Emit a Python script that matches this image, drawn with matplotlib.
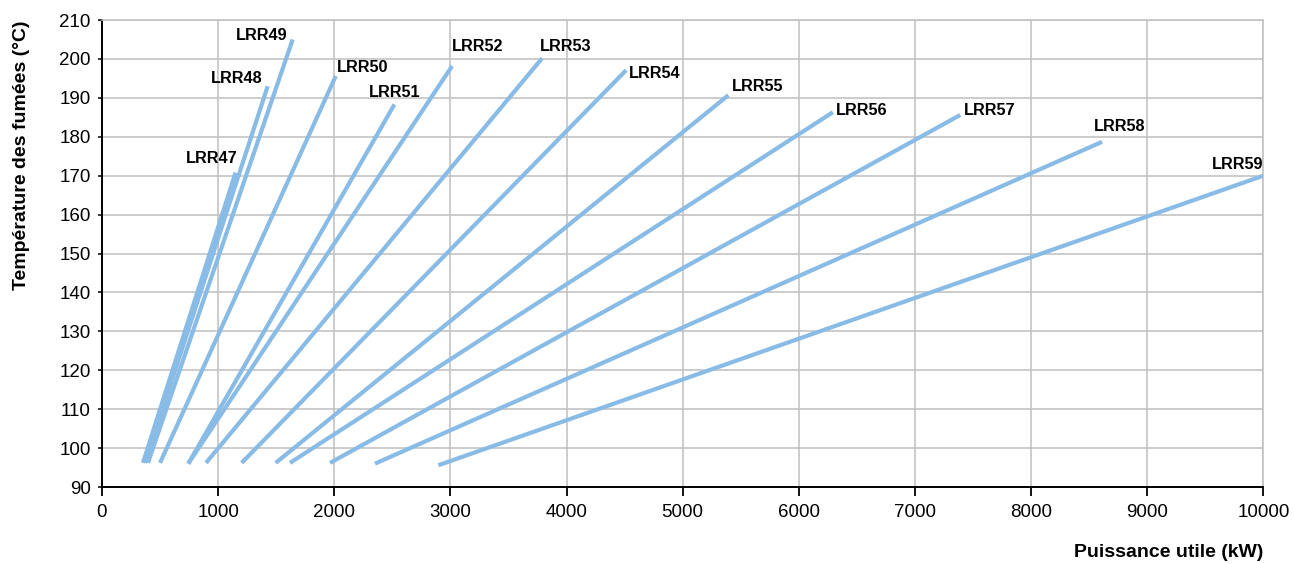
import matplotlib
matplotlib.use("Agg")
import matplotlib.pyplot as plt

# --- données ---
models = ["LRR47", "LRR48", "LRR49", "LRR50", "LRR51", "LRR52", "LRR53",
          "LRR54", "LRR55", "LRR56", "LRR57", "LRR58", "LRR59"]
p_start = [353, 370, 396, 500, 743, 743, 896, 1203, 1496, 1619, 1964, 2351, 2897]
t_start = [96.2, 96.2, 96.2, 96.2, 96.0, 96.0, 96.2, 96.2, 96.2, 96.2, 96.2, 96.0, 95.6]
p_end = [1150, 1427, 1642, 2013, 2518, 3015, 3790, 4513, 5394, 6293, 7390, 8611, 10000]
t_end = [170.8, 193.0, 205.0, 195.6, 188.3, 198.2, 200.2, 197.1, 190.7, 186.3, 185.6, 178.7, 170.0]

# position des étiquettes (décalage en pixels, alignement)
lbl_dx = [2, -5, -5, 1, 0, 0, -2, 3, 3, 3, 4, -8, 0]
lbl_dy = [14, 8, 4, 9, 12, 19, 12, -3, 9, 2, 4, 15, 11]
lbl_ha = ["right", "right", "right", "left", "center", "left", "left",
          "left", "left", "left", "left", "left", "right"]

plt.rcParams["font.family"] = ["Liberation Sans", "DejaVu Sans"]

fig = plt.figure(figsize=(12.94, 5.64), dpi=100)
ax = fig.add_axes([0.0788, 0.1365, 0.8975, 0.828])

LINE = "#88BBE6"
GRID = "#BFBFBF"

for i, name in enumerate(models):
    ax.plot([p_start[i], p_end[i]], [t_start[i], t_end[i]],
            color=LINE, lw=3, solid_capstyle="butt", zorder=3)
    ax.annotate(name, (p_end[i], t_end[i]),
                xytext=(lbl_dx[i], lbl_dy[i]), textcoords="offset pixels",
                ha=lbl_ha[i], va="center", fontsize=11.7, fontweight="bold",
                color="black", zorder=4)

ax.set_xlim(0, 10000)
ax.set_ylim(90, 210)
ax.set_xticks(range(0, 10001, 1000))
ax.set_yticks(range(90, 211, 10))
ax.grid(True, color=GRID, lw=1.1, zorder=0)
ax.set_axisbelow(True)

for s in ["top", "right"]:
    ax.spines[s].set_color(GRID)
    ax.spines[s].set_linewidth(1.1)
for s in ["left", "bottom"]:
    ax.spines[s].set_color("black")
    ax.spines[s].set_linewidth(1.4)

ax.tick_params(axis="x", direction="out", length=6.5, width=1.3, pad=6,
               labelsize=13.5)
ax.tick_params(axis="y", direction="out", length=3, width=1.1, pad=5,
               labelsize=13.5)

ax.set_xlabel("Puissance utile (kW)", fontsize=14, fontweight="bold",
              ha="right", va="center")
ax.xaxis.set_label_coords(1.0, -0.141)
ax.set_ylabel("Température des fumées (°C)", fontsize=14, fontweight="bold",
              va="center")
ax.yaxis.set_label_coords(-0.069, 0.71)

fig.savefig("out.png", dpi=100)
